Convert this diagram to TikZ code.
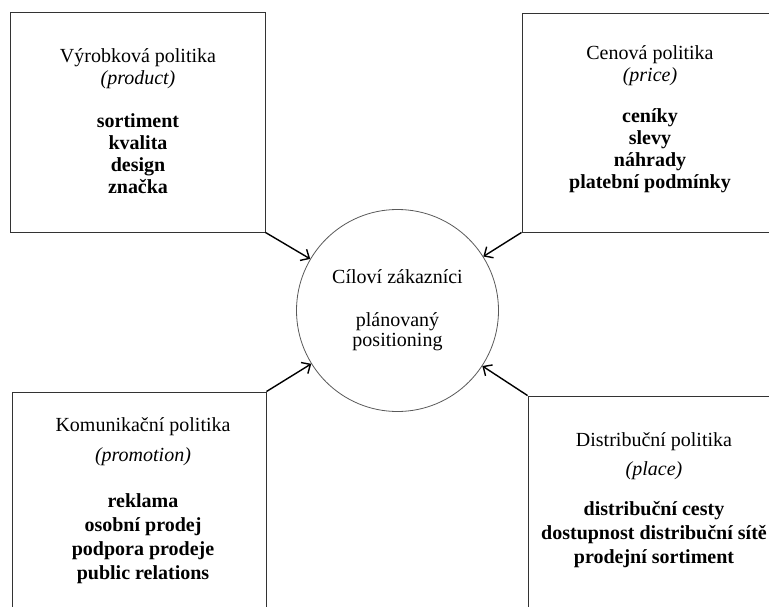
\documentclass[tikz,border=0pt]{standalone}
\usepackage{fontspec}
\setmainfont{Liberation Serif}
\usepackage{tikz}
\usetikzlibrary{arrows, arrows.meta, positioning, shapes}

\begin{document}
\begin{tikzpicture}[
    x=1pt, y=-1pt,
    panel/.style={rectangle, draw=black!80, line width=0.9pt, inner sep=0pt},
    paneltext/.style={anchor=north, inner sep=0pt, align=center, font=\fontsize{20}{22}\selectfont},
    target/.style={circle, draw=black!65, line width=0.8pt, inner sep=0pt, minimum size=202pt, align=center, font=\fontsize{20}{22}\selectfont},
    link/.style={-{Straight Barb[length=7pt, width=13pt]}, line width=1.4pt}
]
    \useasboundingbox (0,0) rectangle (769,607);
    \clip (0,0) rectangle (769,607);

    \node[panel, minimum width=255pt, minimum height=220pt] (product) at (137.5,122) {};
    \node[panel, minimum width=256pt, minimum height=219pt] (price) at (650,122.5) {};
    \node[panel, minimum width=254pt, minimum height=233pt] (promotion) at (139,508.5) {};
    \node[panel, minimum width=252pt, minimum height=229pt] (place) at (654,510.5) {};

    \node[target] (goal) at (397.5,310.5) {C\'ilov\'i z\'akazn\'ici\\[21pt] pl\'anovan\'y\\[-2pt] positioning};

    \node[paneltext] (productText) at (138,48) {V\'yrobkov\'a politika\\ \textit{(product)}\\[21pt]
        \textbf{sortiment}\\ \textbf{kvalita}\\ \textbf{design}\\ \textbf{zna\v{c}ka}};
    \node[paneltext] (priceText) at (650,45) {Cenov\'a politika\\ \textit{(price)}\\[19pt]
        \textbf{cen\'iky}\\ \textbf{slevy}\\ \textbf{n\'ahrady}\\ \textbf{platebn\'i podm\'inky}};
    \node[paneltext] (promotionText) at (143,417) {Komunika\v{c}n\'i politika\\[8pt] \textit{(promotion)}\\[24pt]
        \textbf{reklama}\\[2pt] \textbf{osobn\'i prodej}\\[2pt] \textbf{podpora prodeje}\\[2pt] \textbf{public relations}};
    \node[paneltext] (placeText) at (654,432) {Distribu\v{c}n\'i politika\\[7pt] \textit{(place)}\\[18pt]
        \textbf{distribu\v{c}n\'i cesty}\\[2pt] \textbf{dostupnost distribu\v{c}n\'i s\'it\v{e}}\\[2pt] \textbf{prodejn\'i sortiment}};

    \draw[link] (product.south east) -- (goal);
    \draw[link] (price.south west) -- (goal);
    \draw[link] (promotion.north east) -- (goal);
    \draw[link] (place.north west) -- (goal);
\end{tikzpicture}
\end{document}
